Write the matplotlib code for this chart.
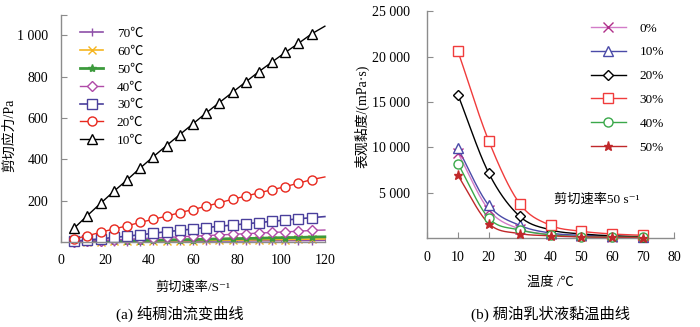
import numpy as np
import matplotlib
matplotlib.use('Agg')
import matplotlib.pyplot as plt

plt.rcParams['font.family'] = ['Liberation Serif', 'Noto Sans CJK SC', 'DejaVu Sans']
plt.rcParams['font.size'] = 10

# (a) pure heavy oil rheology
shear_rate = [6, 12, 18, 24, 30, 36, 42, 48, 54, 60, 66, 72, 78, 84, 90, 96, 102, 108, 114, 120]
stress_10 = [67, 128, 187, 245, 300, 358, 413, 467, 520, 572, 625, 675, 725, 775, 825, 872, 918, 962, 1008, 1045]
stress_20 = [15, 30, 47, 63, 78, 95, 110, 125, 142, 157, 173, 190, 207, 222, 238, 253, 268, 285, 302, 315]
stress_30 = [3, 10, 15, 22, 28, 35, 42, 50, 56, 63, 70, 76, 82, 88, 94, 100, 106, 112, 118, 123]
stress_40 = [1, 4, 7, 10, 13, 16, 19, 22, 25, 28, 31, 34, 37, 40, 43, 46, 49, 52, 56, 58]
stress_50 = [0, 2, 3, 4, 6, 7, 8, 10, 11, 12, 13, 15, 16, 17, 18, 20, 21, 22, 24, 25]
stress_60 = [0, 1, 2, 3, 3, 4, 5, 6, 6, 7, 8, 9, 9, 10, 11, 12, 12, 13, 14, 15]
stress_70 = [0, 0, 1, 1, 2, 2, 3, 3, 3, 4, 4, 5, 5, 5, 6, 6, 7, 7, 7, 8]

# (b) emulsion viscosity vs temperature
temps = [10, 20, 30, 40, 50, 60, 70]
visc_0 = [9400, 3100, 1000, 400, 200, 150, 100]
visc_10 = [9900, 3600, 1400, 550, 300, 200, 120]
visc_20 = [15800, 7150, 2400, 900, 450, 250, 150]
visc_30 = [20600, 10700, 3800, 1400, 750, 450, 300]
visc_40 = [8200, 2200, 900, 350, 150, 100, 80]
visc_50 = [6900, 1600, 500, 250, 120, 80, 60]


def smooth(x, y, n=30):
    # Catmull-Rom spline, similar to Excel's smoothed line
    x = np.asarray(x, float)
    y = np.asarray(y, float)
    px = np.concatenate([[2 * x[0] - x[1]], x, [2 * x[-1] - x[-2]]])
    py = np.concatenate([[2 * y[0] - y[1]], y, [2 * y[-1] - y[-2]]])
    xs, ys = [], []
    t = np.linspace(0, 1, n)
    for i in range(1, len(px) - 2):
        for p, out in ((px, xs), (py, ys)):
            p0, p1, p2, p3 = p[i - 1], p[i], p[i + 1], p[i + 2]
            out.extend(0.5 * (2 * p1 + (-p0 + p2) * t + (2 * p0 - 5 * p1 + 4 * p2 - p3) * t ** 2
                              + (-p0 + 3 * p1 - 3 * p2 + p3) * t ** 3))
    return np.array(xs), np.array(ys)


fig = plt.figure(figsize=(7, 3.27), dpi=100)
spine_col = '#8c8c8c'

# ---- left panel ----
ax1 = fig.add_axes([0.0871, 0.26, 0.377, 0.6946])
left_series = [
    ('70℃', stress_70, '#8e4fa8', '|', 1.2),
    ('60℃', stress_60, '#f5b520', 'x', 1.2),
    ('50℃', stress_50, '#3c9a3c', '*', 2.0),
    ('40℃', stress_40, '#b04aa8', 'D', 1.0),
    ('30℃', stress_30, '#4a3f9c', 's', 1.2),
    ('20℃', stress_20, '#e8281e', 'o', 1.0),
    ('10℃', stress_10, '#000000', '^', 1.0),
]
for lab, vals, col, mk, lw in left_series:
    ms = 6 if mk in ('|', 'x', '*') else 6.5
    if mk == 'D':
        ms = 5
    ax1.plot(shear_rate, vals, color=col, lw=lw, marker=mk, ms=ms, mfc='white' if mk not in ('|', 'x', '*') else col,
             mec=col, mew=1.0, markevery=slice(0, -1), label=lab, clip_on=False)
ax1.set_xlim(0, 120)
ax1.set_ylim(0, 1100)
ax1.set_xticks(range(0, 121, 20))
ax1.set_yticks([200, 400, 600, 800, 1000, 1100])
ax1.set_yticklabels(['200', '400', '600', '800', '1 000', ''])
ax1.set_xlabel('剪切速率/S⁻¹', labelpad=10, fontsize=9.5)
ax1.set_ylabel('剪切应力/Pa', fontsize=10, va='center')
ax1.yaxis.set_label_coords(-0.193, 0.469)
ax1.legend(loc='upper left', bbox_to_anchor=(0.027, 0.995), frameon=False, handlelength=1.75,
           handletextpad=1.05, labelspacing=0.42, fontsize=9.5)

# ---- right panel ----
ax2 = fig.add_axes([0.61, 0.272, 0.353, 0.694])
right_series = [
    ('0%', visc_0, '#d27cc8', '#b0308a', 'x'),
    ('10%', visc_10, '#4a4aa8', '#4a4aa8', '^'),
    ('20%', visc_20, '#000000', '#000000', 'D'),
    ('30%', visc_30, '#f03c3c', '#f03c3c', 's'),
    ('40%', visc_40, '#3aa84a', '#3aa84a', 'o'),
    ('50%', visc_50, '#c0282a', '#c0282a', '*'),
]
for lab, vals, lcol, mcol, mk in right_series:
    sx, sy = smooth(temps, vals)
    ax2.plot(sx, sy, color=lcol, lw=1.0, zorder=2)
    ms = 7 if mk == 's' else 6.5
    if mk == 'D':
        ms = 5
    ax2.plot(temps, vals, ls='none', marker=mk, ms=ms, mfc='white' if mk not in ('x', '*') else mcol,
             mec=mcol, mew=1.0, zorder=3, clip_on=False)
    ax2.plot([], [], color=lcol, lw=1.0, marker=mk, ms=ms, mfc='white' if mk not in ('x', '*') else mcol,
             mec=mcol, mew=1.0, label=lab)
ax2.set_xlim(0, 80)
ax2.set_ylim(0, 25000)
ax2.set_xticks(range(0, 81, 10))
ax2.set_yticks([5000, 10000, 15000, 20000, 25000])
ax2.set_yticklabels(['5 000', '10 000', '15 000', '20 000', '25 000'])
ax2.set_xlabel('温度 /℃', labelpad=9, fontsize=9.5)
ax2.set_ylabel('表观黏度/(mPa·s)', fontsize=10, va='center')
ax2.yaxis.set_label_coords(-0.263, 0.535)
ax2.text(55, 4200, '剪切速率50 s⁻¹', ha='center', va='center', fontsize=9.5)
ax2.legend(loc='upper left', bbox_to_anchor=(0.615, 1.003), frameon=False, handlelength=2.65,
           handletextpad=1.05, labelspacing=0.88, fontsize=9.5)

for ax in (ax1, ax2):
    for s in ('top', 'right'):
        ax.spines[s].set_visible(False)
    for s in ('left', 'bottom'):
        ax.spines[s].set_color(spine_col)
        ax.spines[s].set_linewidth(1.0)
    ax.tick_params(direction='in', length=4, color=spine_col, labelsize=10)
    ax.tick_params(axis='x', pad=9)
ax1.tick_params(axis='y', pad=9)
ax2.tick_params(axis='y', pad=12)

fig.text(0.257, 0.04, '(a) 纯稠油流变曲线', ha='center', va='center', fontsize=11)
fig.text(0.786, 0.04, '(b) 稠油乳状液黏温曲线', ha='center', va='center', fontsize=11)

fig.savefig('out.png', dpi=100)
